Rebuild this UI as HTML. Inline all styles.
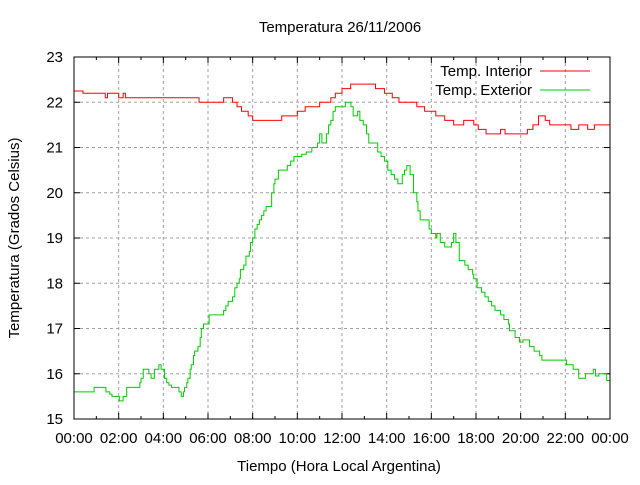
<!DOCTYPE html>
<html><head><meta charset="utf-8"><style>
body{margin:0;background:#fff}
svg text{font-family:"Liberation Sans","DejaVu Sans",sans-serif;font-size:15px;fill:#000}
</style></head><body>
<svg id="chart" width="640" height="480" xmlns="http://www.w3.org/2000/svg">
<rect width="640" height="480" fill="#fff"/>
<text x="340" y="32" text-anchor="middle">Temperatura 26/11/2006</text>
<text x="339" y="471" text-anchor="middle">Tiempo (Hora Local Argentina)</text>
<text transform="translate(19,238) rotate(-90)" text-anchor="middle">Temperatura (Grados Celsius)</text>
<g id="grid"></g>
<g id="ticks"></g>
<g id="series"></g>
<rect x="74" y="57" width="536" height="362" fill="none" stroke="#000" stroke-width="1"/>
<g>
<text x="532" y="76" text-anchor="end">Temp. Interior</text>
<line x1="540" y1="71" x2="590" y2="71" stroke="#f00" stroke-width="1"/>
<text x="532" y="95" text-anchor="end">Temp. Exterior</text>
<line x1="540" y1="90" x2="590" y2="90" stroke="#0c0" stroke-width="1"/>
</g>
</svg>
<script>
const xTickLabels=["00:00","02:00","04:00","06:00","08:00","10:00","12:00","14:00","16:00","18:00","20:00","22:00","00:00"];
const yTickValues=[15,16,17,18,19,20,21,22,23];
const interiorHours=[0,0.4,1.4,1.5,2.0,2.2,2.3,5.6,6.7,7.1,7.3,7.5,7.8,8.0,9.3,10.0,10.35,11.0,11.5,11.7,12.0,12.39,13.5,13.9,14.25,14.55,15.35,15.7,16.2,16.6,17.0,17.45,17.9,18.1,18.45,19.1,19.3,20.3,20.55,20.8,21.1,21.3,22.25,22.6,23.0,23.3,24];
const interiorTemps=[22.25,22.2,22.1,22.2,22.1,22.2,22.1,22.0,22.1,22.0,21.9,21.8,21.7,21.6,21.7,21.8,21.9,22.0,22.1,22.2,22.3,22.4,22.3,22.2,22.1,22.0,21.9,21.8,21.7,21.6,21.5,21.6,21.5,21.4,21.3,21.4,21.3,21.4,21.5,21.7,21.6,21.5,21.4,21.5,21.4,21.5,21.5];
const exteriorHours=[0,0.9,1.43,1.6,1.7,2.03,2.2,2.36,2.95,3.0,3.1,3.35,3.45,3.6,3.8,3.9,4.05,4.15,4.25,4.37,4.7,4.8,4.9,4.95,5.05,5.1,5.2,5.25,5.35,5.4,5.55,5.65,5.7,5.8,6.05,6.7,6.8,6.9,7.1,7.2,7.3,7.4,7.45,7.6,7.7,7.85,7.9,8.0,8.1,8.2,8.3,8.4,8.5,8.6,8.85,8.95,9.0,9.15,9.55,9.7,9.85,10.2,10.4,10.65,10.9,11.0,11.1,11.3,11.4,11.5,11.6,11.7,11.85,12.15,12.4,12.5,12.7,12.8,12.95,13.1,13.2,13.6,13.75,13.9,14.05,14.2,14.35,14.5,14.7,14.8,14.9,15.05,15.2,15.35,15.4,15.5,15.9,16.0,16.2,16.25,16.4,16.6,16.9,17.0,17.1,17.25,17.5,17.65,17.85,17.9,18.05,18.25,18.4,18.55,18.7,18.85,19.1,19.25,19.45,19.5,19.75,19.95,20.1,20.4,20.6,20.85,20.95,22.05,22.35,22.6,22.9,23.25,23.35,23.5,23.85,24];
const exteriorTemps=[15.6,15.7,15.6,15.55,15.5,15.4,15.5,15.7,15.8,15.9,16.1,16.0,15.9,16.1,16.2,16.1,15.9,15.8,15.75,15.7,15.6,15.5,15.6,15.7,15.8,15.9,16.1,16.2,16.4,16.5,16.6,16.8,17.0,17.1,17.3,17.4,17.5,17.6,17.7,17.9,18.0,18.1,18.3,18.4,18.6,18.7,18.9,19.0,19.2,19.3,19.4,19.5,19.6,19.7,20.0,20.2,20.3,20.5,20.6,20.7,20.8,20.85,20.9,21.0,21.1,21.3,21.1,21.3,21.5,21.6,21.8,21.9,21.9,22.0,21.9,21.7,21.8,21.6,21.5,21.3,21.1,20.9,20.8,20.7,20.5,20.4,20.3,20.2,20.4,20.5,20.6,20.4,20.0,19.8,19.6,19.4,19.2,19.1,19.0,19.1,18.9,18.8,18.9,19.1,18.9,18.5,18.4,18.3,18.2,18.1,17.9,17.8,17.7,17.6,17.5,17.4,17.3,17.2,17.1,16.95,16.8,16.7,16.75,16.6,16.5,16.4,16.3,16.2,16.1,15.9,16.0,16.1,15.95,16.0,15.85,15.9];
const L=74,R=610,T=57,B=419,NS="http://www.w3.org/2000/svg";
const xs=h=>L+h/24*(R-L);
const ys=v=>B-(v-15)/8*(B-T);
function mk(tag,attrs,parent){const e=document.createElementNS(NS,tag);for(const k in attrs)e.setAttribute(k,attrs[k]);parent.appendChild(e);return e;}
const grid=document.getElementById('grid'),ticks=document.getElementById('ticks'),series=document.getElementById('series');
xTickLabels.forEach((lab,i)=>{const x=xs(i*2);
 if(i>0&&i<12){const g=mk('line',{x1:x,y1:T,x2:x,y2:B,stroke:'#a0a0a0','stroke-dasharray':'3,3'},grid);
 
 }
 const t=mk('text',{x:x,y:443,'text-anchor':'middle'},ticks);t.textContent=lab;
 
 
 mk('line',{x1:x,y1:B,x2:x,y2:B-6,stroke:'#000'},ticks);mk('line',{x1:x,y1:T,x2:x,y2:T+6,stroke:'#000'},ticks);
});
for(let h=1;h<24;h+=2){const x=xs(h);mk('line',{x1:x,y1:B,x2:x,y2:B-3,stroke:'#000'},ticks);mk('line',{x1:x,y1:T,x2:x,y2:T+3,stroke:'#000'},ticks);}
yTickValues.forEach(v=>{const y=ys(v);
 if(v>15&&v<23){const g=mk('line',{x1:L,y1:y,x2:R,y2:y,stroke:'#a0a0a0','stroke-dasharray':'3,3'},grid);
 
 }
 const t=mk('text',{x:63,y:y+5,'text-anchor':'end'},ticks);t.textContent=v;
 
 
 mk('line',{x1:L,y1:y,x2:L+6,y2:y,stroke:'#000'},ticks);mk('line',{x1:R,y1:y,x2:R-6,y2:y,stroke:'#000'},ticks);
});
function step(hs,vs,color,name){let d='M'+xs(hs[0])+','+ys(vs[0]);
 for(let i=1;i<hs.length;i++){d+=' H'+xs(hs[i])+' V'+ys(vs[i]);}
 const p=mk('path',{d:d,fill:'none',stroke:color,'stroke-width':1},series);
 
 }
step(interiorHours,interiorTemps,'#f00','interior-temp-line');
step(exteriorHours,exteriorTemps,'#0c0','exterior-temp-line');
</script>
</body></html>
